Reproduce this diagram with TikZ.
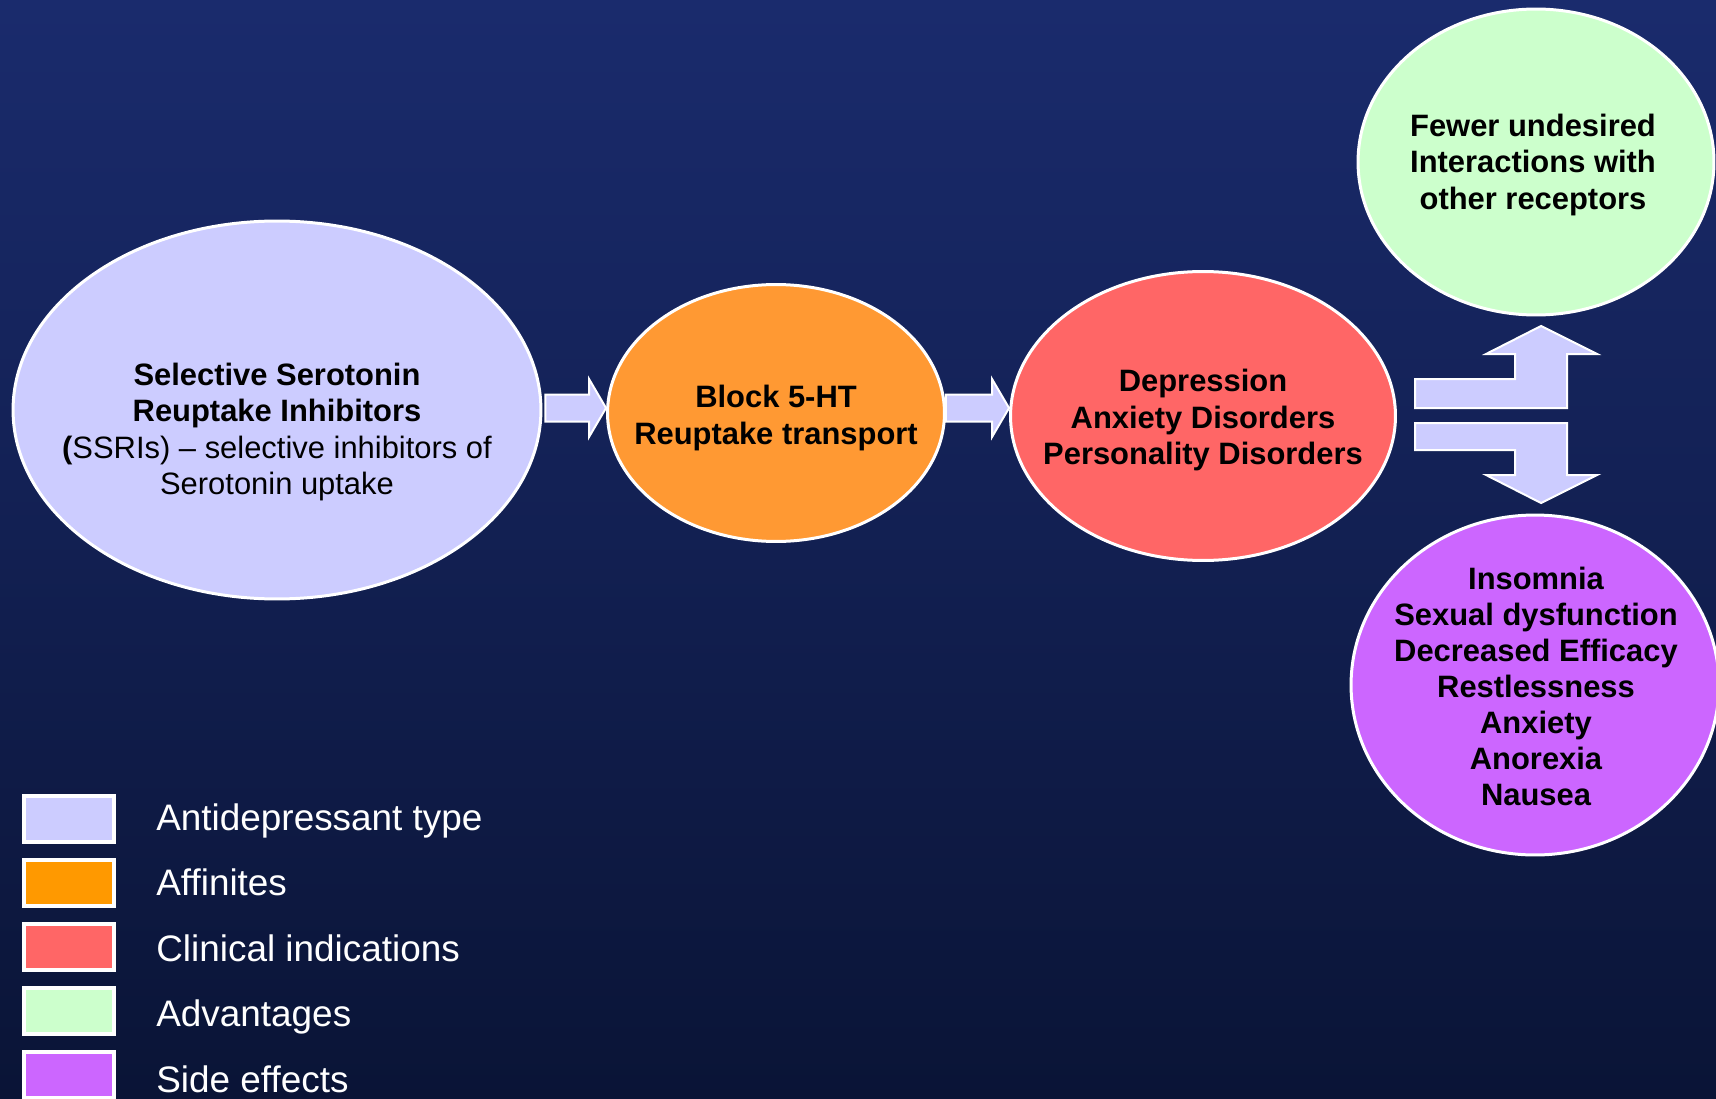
\documentclass[tikz,border=0pt]{standalone}
\usepackage{fontspec}
\setmainfont{Liberation Sans}
\usetikzlibrary{calc,shapes.geometric}
\definecolor{bgtop}{HTML}{1A2B6D}
\definecolor{bgbottom}{HTML}{0A1436}
\definecolor{typecol}{HTML}{CCCCFF}
\definecolor{affcol}{HTML}{FF9933}
\definecolor{affkey}{HTML}{FF9900}
\definecolor{indcol}{HTML}{FF6666}
\definecolor{advcol}{HTML}{CCFFCC}
\definecolor{sidecol}{HTML}{CC66FF}

\tikzset{
  bubble/.style={ellipse,draw=white,line width=0.06cm,inner sep=0pt},
  bubbletext/.style={align=center,inner sep=0pt,font=\fontsize{17.6}{20.5}\selectfont\bfseries},
  keybox/.style={draw=white,line width=0.08cm,minimum width=1.8cm,minimum height=0.92cm,inner sep=0pt},
  keytext/.style={anchor=base west,inner sep=0pt,text=white,font=\fontsize{21}{25}\selectfont},
  fatarrow/.style={fill=typecol,draw=white,line width=0.04cm,line join=miter}
}

% block arrow from a tail coordinate to a tip coordinate
\newcommand{\linkarrow}[2]{%
  \draw[fatarrow] ($(#1)+(0,-13.5)$) -- ($(#2)+(-17,-13.5)$) -- ($(#2)+(-17,-29)$)
    -- (#2) -- ($(#2)+(-17,29)$) -- ($(#2)+(-17,13.5)$) -- ($(#1)+(0,13.5)$) -- cycle;}

\begin{document}
\begin{tikzpicture}[x=0.02cm,y=-0.02cm]
  \shade[top color=bgtop,bottom color=bgbottom] (0,0) rectangle (1716,1098);
  \useasboundingbox (0,0) rectangle (1716,1098);

  % the four steps
  \node[bubble,fill=typecol,minimum width=10.56cm,minimum height=7.56cm] (ssri) at (277,410) {};
  \node[bubble,fill=affcol,minimum width=6.74cm,minimum height=5.14cm] (block) at (776,413) {};
  \node[bubble,fill=indcol,minimum width=7.7cm,minimum height=5.78cm] (clin) at (1203,416) {};
  \node[bubble,fill=advcol,minimum width=7.12cm,minimum height=6.12cm] (adv) at (1536,162) {};
  \node[bubble,fill=sidecol,minimum width=7.36cm,minimum height=6.8cm] (side) at (1535,685) {};

  \node[bubbletext] (ssritext) at (277,432) {Selective Serotonin\\Reuptake Inhibitors\\({\mdseries SSRIs) – selective inhibitors of}\\{\mdseries Serotonin uptake}};
  \node[bubbletext] (blocktext) at (776,418) {Block 5-HT\\Reuptake transport};
  \node[bubbletext] (clintext) at (1203,420) {Depression\\Anxiety Disorders\\Personality Disorders};
  \node[bubbletext] (advtext) at (1533,165) {Fewer undesired\\Interactions with\\other receptors};
  \node[bubbletext] (sidetext) at (1536,686) {Insomnia\\Sexual dysfunction\\Decreased Efficacy\\Restlessness\\Anxiety\\Anorexia\\Nausea};

  % arrows between them
  \coordinate (tail1) at ($(ssri.east)+(3,-2)$);
  \coordinate (tip1) at (block.west |- tail1);
  \coordinate (tail2) at ($(block.east)+(0,-5)$);
  \coordinate (tip2) at (clin.west |- tail2);
  \linkarrow{tail1}{tip1}
  \linkarrow{tail2}{tip2}

  % split towards advantages and side effects
  \draw[fatarrow] (1415,379) -- (1515,379) -- (1515,354) -- (1486,354) -- (1541,326)
    -- (1597,354) -- (1567,354) -- (1567,408) -- (1415,408) -- cycle;
  \draw[fatarrow] (1415,423) -- (1567,423) -- (1567,475) -- (1597,475) -- (1541,503)
    -- (1486,475) -- (1515,475) -- (1515,450) -- (1415,450) -- cycle;

  % legend
  \node[keybox,fill=typecol] (key1) at (69,819) {};
  \node[keybox,fill=affkey] (key2) at (69,883) {};
  \node[keybox,fill=indcol] (key3) at (69,947) {};
  \node[keybox,fill=advcol] (key4) at (69,1011) {};
  \node[keybox,fill=sidecol] (key5) at (69,1075) {};
  \node[keytext] (label1) at (156,830) {Antidepressant type};
  \node[keytext] (label2) at (156,895.5) {Affinites};
  \node[keytext] (label3) at (156,961) {Clinical indications};
  \node[keytext] (label4) at (156,1026.5) {Advantages};
  \node[keytext] (label5) at (156,1092) {Side effects};
\end{tikzpicture}
\end{document}
